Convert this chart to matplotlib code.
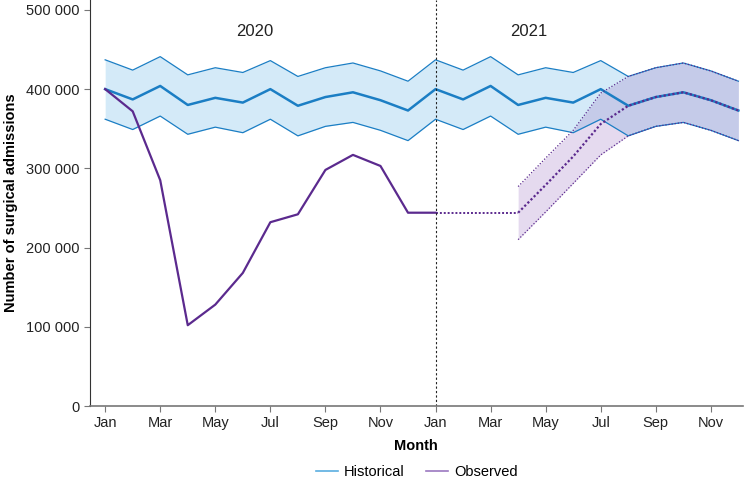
import matplotlib
matplotlib.use("Agg")
import matplotlib.pyplot as plt
import numpy as np
from matplotlib.lines import Line2D

plt.rcParams["font.family"] = ["Liberation Sans", "DejaVu Sans"]

# Historical pattern (one year, repeated for 2020 and 2021)
hist_mean_year = [400000, 387000, 404000, 380000, 389000, 383000,
                  400000, 379000, 390000, 396000, 386000, 373000]
hist_upper_year = [437000, 424000, 441000, 418000, 427000, 421000,
                   436000, 416000, 427000, 433000, 423000, 410000]
hist_lower_year = [362000, 349000, 366000, 343000, 352000, 345000,
                   362000, 341000, 353000, 358000, 348000, 335000]

hist_mean = hist_mean_year * 2
hist_upper = hist_upper_year * 2
hist_lower = hist_lower_year * 2

# Observed, Jan 2020 - Jan 2021
observed = [400000, 372000, 285000, 102000, 128000, 168000, 232000,
            242000, 298000, 317000, 303000, 244000, 244000]

# Projection, Jan 2021 - Dec 2021 (month index 12..23)
proj_flat = [244000, 244000, 244000, 244000]          # Jan-Apr 2021
proj_mean = [244000, 279000, 315000, 356000, 379000,
             390000, 396000, 386000, 373000]           # Apr-Dec 2021
proj_upper = [277000, 313000, 348000, 395000, 416000,
              427000, 433000, 423000, 410000]
proj_lower = [210000, 245000, 281000, 317000, 341000,
              353000, 358000, 348000, 335000]

month_labels = ["Jan", "Mar", "May", "Jul", "Sep", "Nov"] * 2

blue = "#1b7ec4"
blue_fill = "#d4eaf8"
purple = "#5b2a8e"
purple_fill = "#9b6fc0"

fig = plt.figure(figsize=(7.44, 4.83), dpi=100)
ax = fig.add_axes([0.121, 0.1594, 0.877, 0.8406])

x_hist = np.arange(24)
ax.fill_between(x_hist, hist_lower, hist_upper, color=blue_fill, lw=0)
ax.plot(x_hist, hist_upper, color=blue, lw=0.9)
ax.plot(x_hist, hist_lower, color=blue, lw=0.9)
ax.plot(x_hist, hist_mean, color=blue, lw=1.8)

x_proj = np.arange(15, 24)
ax.fill_between(x_proj, proj_lower, proj_upper, color=purple_fill, alpha=0.25, lw=0)
ax.plot(x_proj, proj_upper, color=purple, lw=0.9, ls=(0, (1, 1.5)))
ax.plot(x_proj, proj_lower, color=purple, lw=0.9, ls=(0, (1, 1.5)))
ax.plot(x_proj, proj_mean, color=purple, lw=1.6, ls=(0, (1, 1)))
ax.plot(np.arange(12, 16), proj_flat, color=purple, lw=1.4, ls=(0, (1, 1)))

ax.plot(np.arange(13), observed, color=purple, lw=1.6)

ax.axvline(12, color="#222222", lw=0.8, ls=(0, (2, 2)))

ax.text(5.42, 473000, "2020", ha="center", va="center", fontsize=12, color="#222222")
ax.text(15.4, 473000, "2021", ha="center", va="center", fontsize=12, color="#222222")

ax.set_xlim(-0.55, 23.15)
ax.set_ylim(0, 512500)
ax.set_xticks(np.arange(0, 24, 2))
ax.set_xticklabels(month_labels)
ax.set_yticks(np.arange(0, 500001, 100000))
ax.set_yticklabels(["0", "100 000", "200 000", "300 000", "400 000", "500 000"])

for side in ["top", "right"]:
    ax.spines[side].set_visible(False)
ax.spines["left"].set_color("#333333")
ax.spines["bottom"].set_color("#777777")
ax.spines["bottom"].set_linewidth(1.2)
ax.tick_params(axis="both", colors="#777777", labelcolor="#222222",
               labelsize=10.5, length=4)

ax.set_xlabel("Month", fontsize=10.5, fontweight="bold", labelpad=6)
ax.set_ylabel("Number of surgical admissions", fontsize=10.5,
              fontweight="bold", labelpad=6)

handles = [Line2D([], [], color="#5aaee0", lw=1.2),
           Line2D([], [], color="#9b78c0", lw=1.2)]
fig.legend(handles, ["Historical", "Observed"], loc="center",
           bbox_to_anchor=(417 / 744, 1 - 472 / 483), ncol=2, frameon=False,
           fontsize=10.5, handlelength=1.5, handletextpad=0.4, columnspacing=1.5)

fig.savefig("out.png", dpi=100)
